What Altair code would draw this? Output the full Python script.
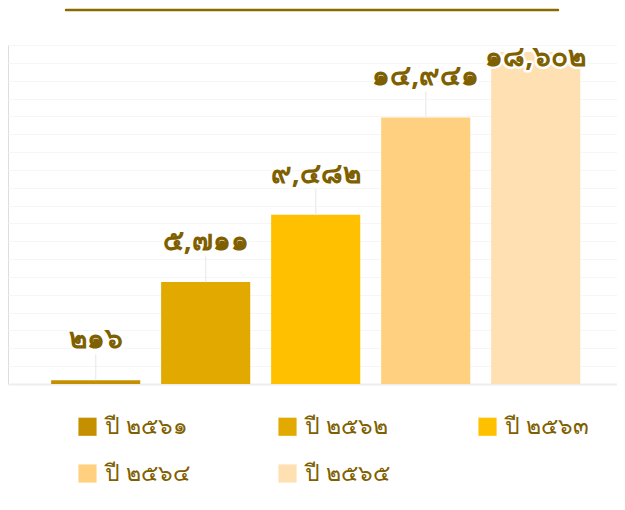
import altair as alt
import pandas as pd

years = ["ปี ๒๕๖๑", "ปี ๒๕๖๒", "ปี ๒๕๖๓", "ปี ๒๕๖๔", "ปี ๒๕๖๕"]
values = [216, 5711, 9482, 14941, 18602]
labels = ["๒๑๖", "๕,๗๑๑", "๙,๔๘๒", "๑๔,๙๔๑", "๑๘,๖๐๒"]
colors = ["#c49000", "#e2a900", "#ffc000", "#ffd080", "#ffe0b2"]
grid_values = list(range(0, 19001, 1000))

TEXT = "#7f6000"
FONT = "Noto Sans"

df = pd.DataFrame({"year": years, "value": values, "label": labels})

base = alt.Chart(df)

xenc = alt.X("year:N", sort=years, title=None,
             scale=alt.Scale(paddingInner=0.19, paddingOuter=0.363, align=0.54),
             axis=alt.Axis(labels=False, ticks=False, domain=True,
                           domainColor="#eeeeee", domainWidth=2, grid=False))
yaxis = alt.Axis(labels=False, ticks=False, domain=False, values=grid_values,
                 gridColor="#f6f6f6", gridWidth=1)
yscale = alt.Scale(domain=[0, 19000], nice=False)

bars = base.mark_bar().encode(
    x=xenc, y=alt.Y("value:Q", title=None, scale=yscale, axis=yaxis),
    color=alt.Color("year:N", sort=years, title=None,
                    scale=alt.Scale(domain=years, range=colors),
                    legend=alt.Legend(orient="none", legendX=68, legendY=370,
                                      direction="horizontal",
                                      columns=3, gridAlign="all",
                                      columnPadding=86, rowPadding=23,
                                      symbolType="square", symbolSize=330,
                                      symbolStrokeWidth=0, symbolOffset=0,
                                      labelFont=FONT, labelFontSize=23,
                                      labelFontWeight="normal",
                                      labelColor=TEXT, labelOffset=6,
                                      labelLimit=300)),
)

calc = base.transform_calculate(ly="min(datum.value + 2240, 18280)")

connectors = calc.transform_filter("datum.ly > datum.value + 900").mark_rule(
    color="#eeeeee", strokeWidth=1.5, y2Offset=14
).encode(x=xenc, y=alt.Y("value:Q", title=None, scale=yscale, axis=yaxis),
         y2="ly:Q")

halo = calc.mark_text(font=FONT, fontSize=28, fontWeight="bold",
                      stroke="white", strokeWidth=5, strokeJoin="round",
                      fill="white", baseline="middle").encode(
    x=xenc, y=alt.Y("ly:Q", title=None, scale=yscale, axis=yaxis),
    text="label:N")
txt = calc.mark_text(font=FONT, fontSize=28, fontWeight="bold",
                     fill=TEXT, baseline="middle").encode(
    x=xenc, y=alt.Y("ly:Q", title=None, scale=yscale, axis=yaxis),
    text="label:N")

deco = alt.Chart(alt.Data(values=[{"a": 1}])).mark_rule(
    color="#8a6a00", strokeWidth=2.5, strokeCap="round"
).encode(x=alt.value(58), x2=alt.value(550), y=alt.value(-35))

chart = alt.layer(bars, connectors, halo, txt, deco).properties(
    width=609, height=339
).configure_view(stroke=None).configure(padding=0)

chart.save("out.html", embed_options={"renderer": "svg", "actions": False})
